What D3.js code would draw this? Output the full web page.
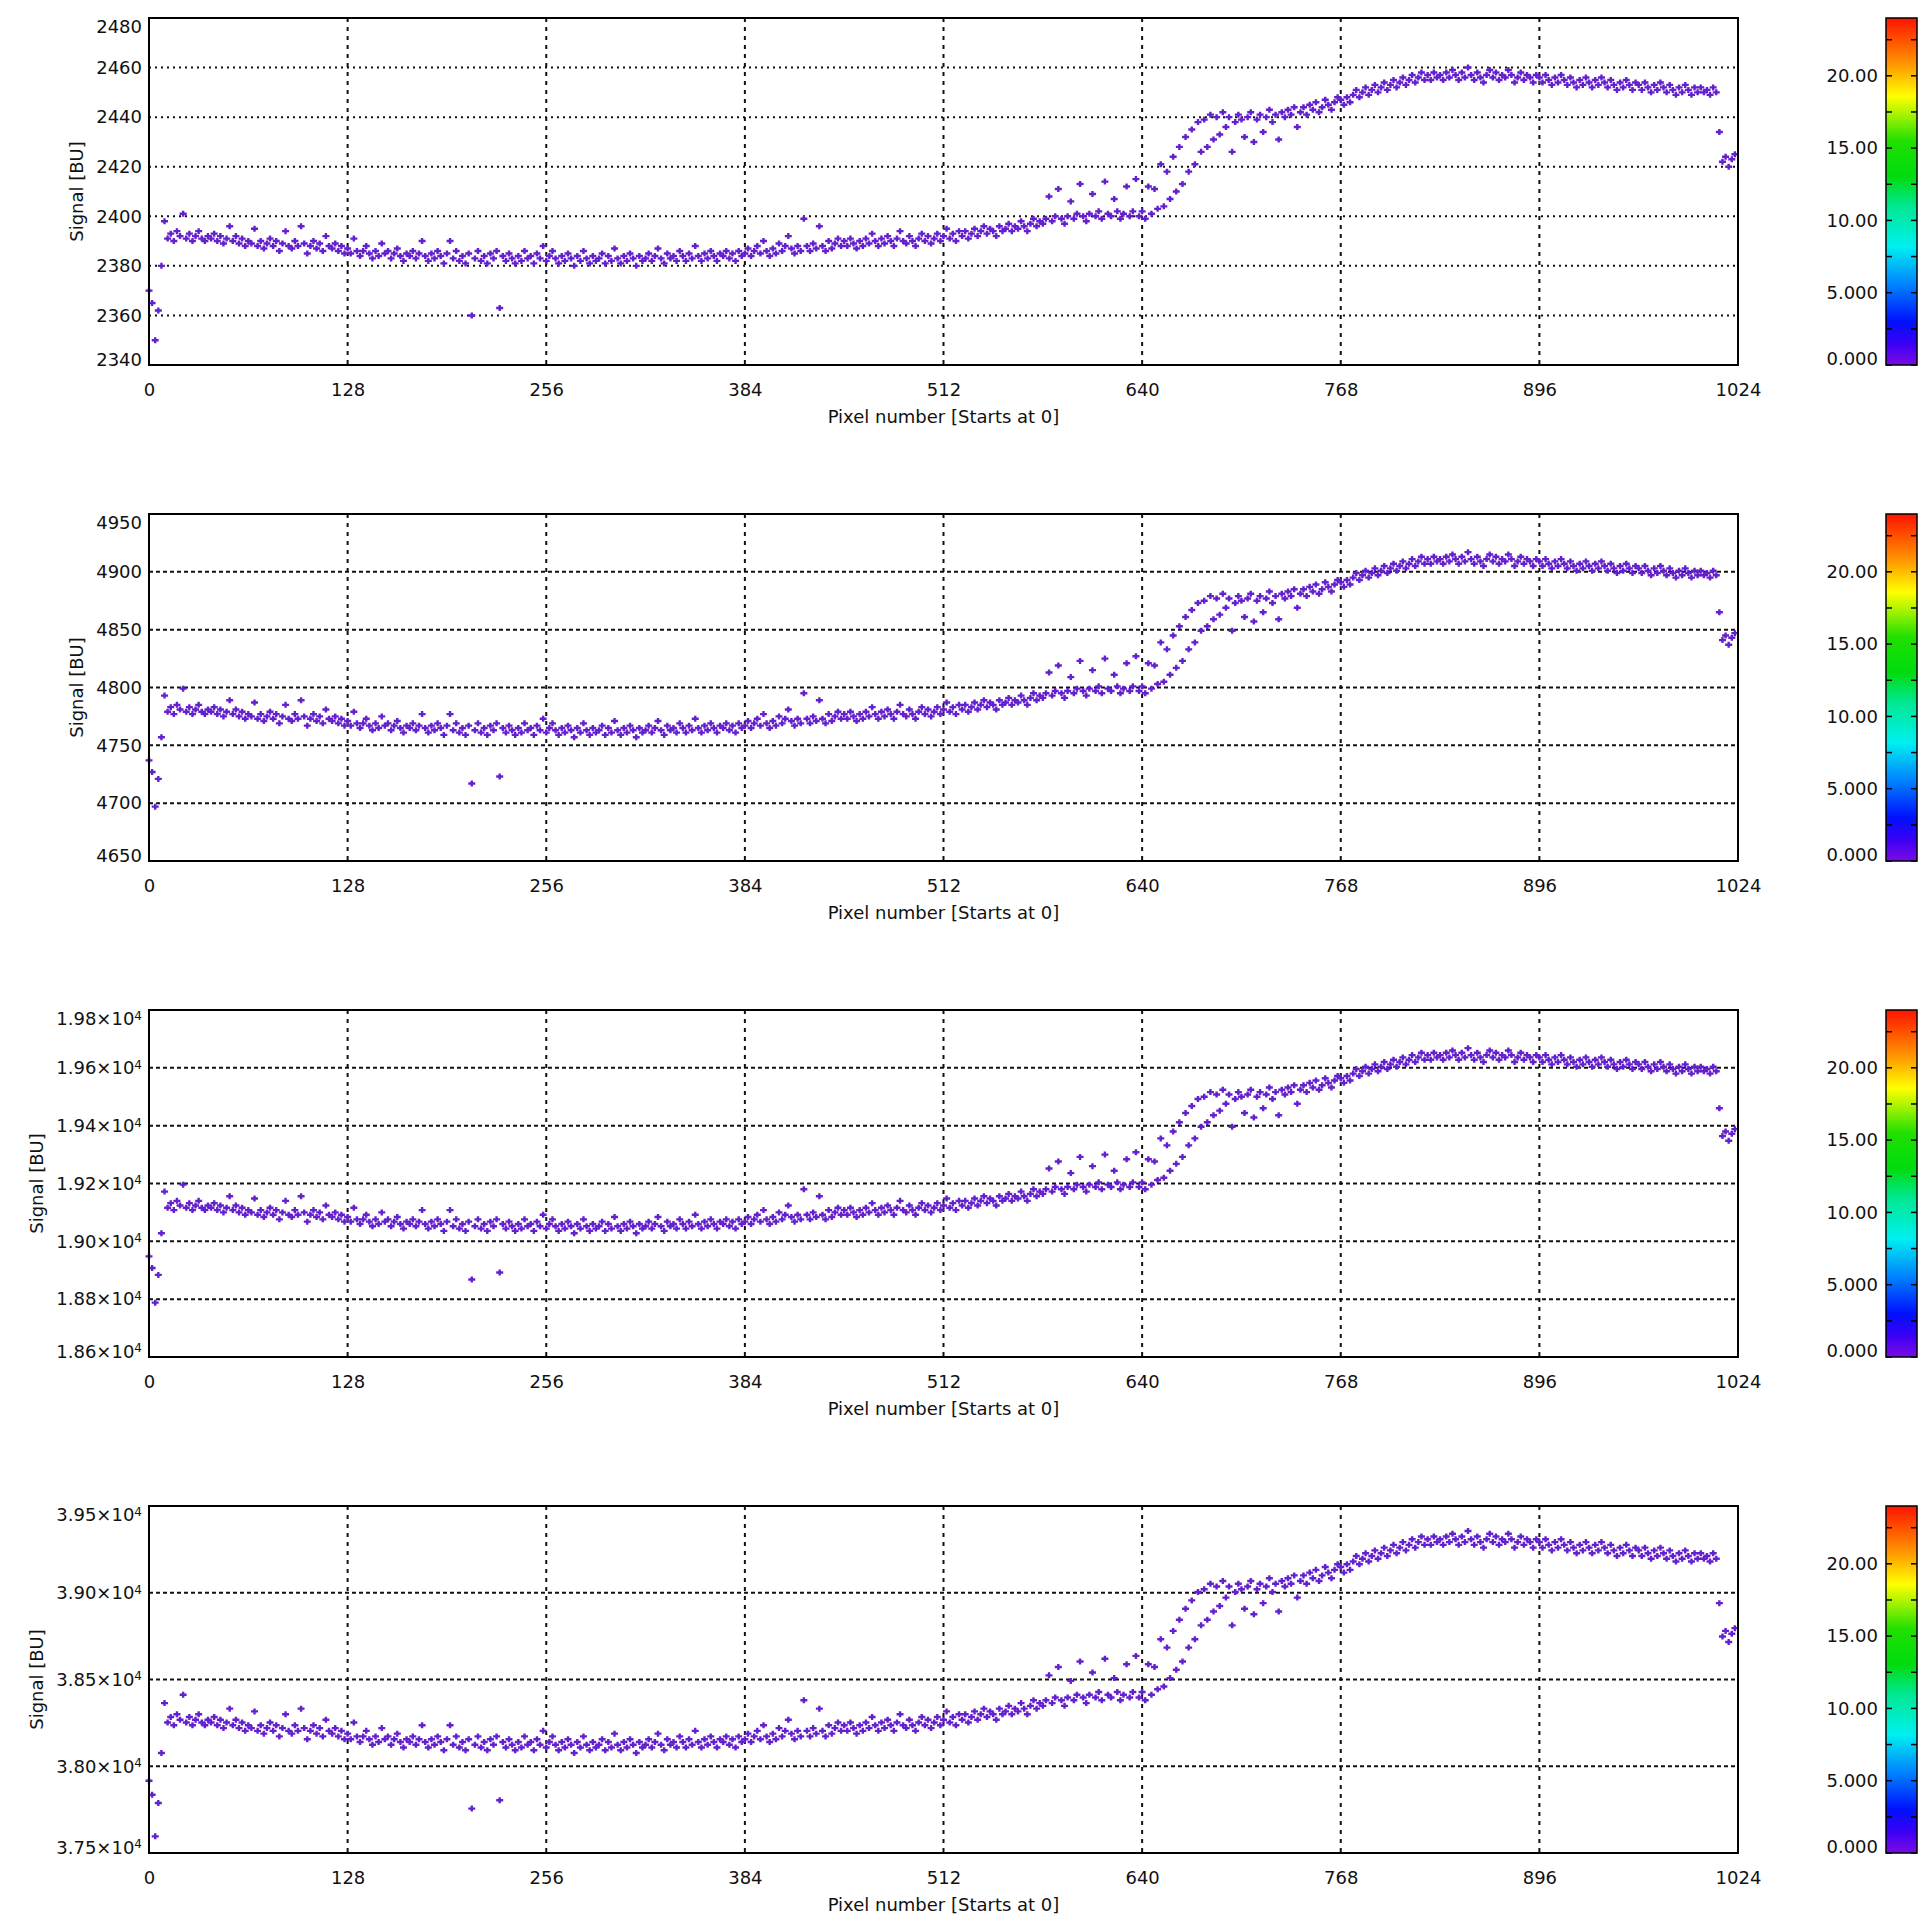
<!DOCTYPE html>
<html>
<head>
<meta charset="utf-8">
<script src="https://cdn.jsdelivr.net/npm/d3@7"></script>
<style>
  html, body { margin: 0; padding: 0; background: #fff; }
  svg text { font-family: "DejaVu Sans", sans-serif; fill: #111; }
</style>
</head>
<body>
<svg id="chart" width="1921" height="1916"></svg>
<script>
// Detector signal vs pixel number, four exposure levels, one point every 2 pixels
const X_TICKS = [0, 128, 256, 384, 512, 640, 768, 896, 1024];
const PIXEL_STEP = 2;

const SIGNAL_A = [
  2370,2365,2350,2362,2380,2398,2391,2393,2390,2394,2392,2401,2391,2393,2390,2392,2394,2391,2390,2392,2391,2393,2390,2392,2389,2391,2396,2390,2392,2389,2391,2388,
  2390,2389,2395,2388,2390,2387,2389,2391,2388,2390,2386,2389,2394,2388,2387,2390,2388,2396,2389,2385,2388,2390,2387,2389,2386,2392,2388,2387,2389,2386,2388,2385,
  2387,2385,2391,2386,2384,2386,2388,2385,2383,2386,2384,2389,2385,2386,2383,2385,2387,2384,2382,2385,2384,2386,2383,2385,2390,2384,2382,2385,2383,2386,2384,2381,
  2385,2390,2383,2386,2382,2384,2381,2385,2360,2383,2386,2382,2384,2381,2385,2383,2386,2363,2384,2382,2385,2383,2381,2384,2382,2386,2383,2384,2381,2385,2383,2388,
  2382,2384,2386,2383,2381,2384,2382,2385,2383,2380,2384,2382,2386,2383,2381,2384,2382,2383,2385,2381,2384,2382,2387,2383,2381,2384,2382,2385,2383,2380,2384,2382,
  2383,2385,2382,2384,2387,2383,2381,2385,2383,2384,2382,2386,2384,2382,2385,2383,2388,2384,2382,2385,2383,2386,2384,2382,2385,2384,2386,2383,2385,2382,2386,2384,
  2385,2387,2384,2386,2388,2385,2390,2386,2384,2387,2385,2389,2386,2388,2392,2387,2385,2388,2386,2399,2388,2386,2389,2387,2396,2388,2386,2390,2387,2389,2391,2388,
  2390,2388,2391,2389,2387,2390,2388,2391,2389,2393,2390,2388,2391,2389,2392,2390,2388,2391,2394,2390,2389,2392,2390,2388,2391,2393,2390,2392,2389,2391,2393,2390,
  2392,2395,2391,2393,2390,2394,2392,2394,2391,2393,2395,2392,2394,2396,2393,2395,2394,2392,2396,2394,2395,2397,2394,2396,2395,2398,2396,2394,2397,2399,2396,2398,
  2397,2399,2408,2398,2400,2411,2399,2397,2400,2406,2399,2401,2413,2400,2398,2401,2409,2400,2402,2399,2414,2401,2400,2407,2402,2399,2401,2412,2400,2402,2415,2400,
  2402,2399,2412,2401,2411,2403,2421,2404,2418,2407,2424,2410,2428,2413,2432,2418,2435,2421,2438,2426,2439,2428,2441,2431,2440,2433,2442,2436,2440,2426,2438,2441,
  2439,2432,2440,2442,2430,2439,2441,2434,2440,2443,2438,2441,2431,2442,2440,2443,2441,2444,2436,2442,2444,2441,2445,2443,2446,2442,2444,2447,2445,2443,2446,2448,
  2447,2445,2448,2446,2449,2451,2448,2450,2452,2449,2451,2453,2450,2452,2454,2451,2453,2455,2452,2454,2456,2453,2455,2457,2454,2456,2458,2455,2457,2455,2458,2456,
  2457,2455,2458,2456,2459,2457,2455,2458,2456,2460,2457,2455,2458,2456,2454,2457,2459,2456,2458,2455,2457,2456,2459,2457,2454,2456,2458,2455,2457,2456,2454,2457,
  2456,2454,2457,2455,2453,2456,2454,2457,2455,2453,2456,2454,2452,2455,2453,2456,2454,2452,2455,2453,2456,2454,2452,2455,2453,2451,2454,2452,2455,2453,2451,2454,
  2453,2451,2454,2452,2450,2453,2451,2454,2452,2450,2453,2451,2449,2452,2450,2453,2451,2449,2452,2450,2452,2450,2451,2449,2452,2450,2434,2422,2424,2420,2423,2425
];

const SIGNAL_B = [
  4737,4727,4697,4721,4757,4793,4779,4783,4777,4785,4781,4799,4779,4783,4777,4781,4785,4779,4777,4781,4779,4783,4777,4781,4775,4779,4789,4777,4781,4775,4779,4773,
  4777,4775,4787,4773,4777,4771,4775,4779,4773,4777,4769,4775,4785,4773,4771,4777,4773,4789,4775,4767,4773,4777,4771,4775,4769,4781,4773,4771,4775,4769,4773,4767,
  4771,4767,4779,4769,4765,4769,4773,4767,4763,4769,4765,4775,4767,4769,4763,4767,4771,4765,4761,4767,4765,4769,4763,4767,4777,4765,4761,4767,4763,4769,4765,4759,
  4767,4777,4763,4769,4761,4765,4759,4767,4717,4763,4769,4761,4765,4759,4767,4763,4769,4723,4765,4761,4767,4763,4759,4765,4761,4769,4763,4765,4759,4767,4763,4773,
  4761,4765,4769,4763,4759,4765,4761,4767,4763,4757,4765,4761,4769,4763,4759,4765,4761,4763,4767,4759,4765,4761,4771,4763,4759,4765,4761,4767,4763,4757,4765,4761,
  4763,4767,4761,4765,4771,4763,4759,4767,4763,4765,4761,4769,4765,4761,4767,4763,4773,4765,4761,4767,4763,4769,4765,4761,4767,4765,4769,4763,4767,4761,4769,4765,
  4767,4771,4765,4769,4773,4767,4777,4769,4765,4771,4767,4775,4769,4773,4781,4771,4767,4773,4769,4795,4773,4769,4775,4771,4789,4773,4769,4777,4771,4775,4779,4773,
  4777,4773,4779,4775,4771,4777,4773,4779,4775,4783,4777,4773,4779,4775,4781,4777,4773,4779,4785,4777,4775,4781,4777,4773,4779,4783,4777,4781,4775,4779,4783,4777,
  4781,4787,4779,4783,4777,4785,4781,4785,4779,4783,4787,4781,4785,4789,4783,4787,4785,4781,4789,4785,4787,4791,4785,4789,4787,4793,4789,4785,4791,4795,4789,4793,
  4791,4795,4813,4793,4797,4819,4795,4791,4797,4809,4795,4799,4823,4797,4793,4799,4815,4797,4801,4795,4825,4799,4797,4811,4801,4795,4799,4821,4797,4801,4827,4797,
  4801,4795,4821,4799,4819,4803,4839,4805,4833,4811,4845,4817,4853,4823,4861,4833,4867,4839,4873,4849,4875,4853,4879,4859,4877,4863,4881,4869,4877,4849,4873,4879,
  4875,4861,4877,4881,4857,4875,4879,4865,4877,4883,4873,4879,4859,4881,4877,4883,4879,4885,4869,4881,4885,4879,4887,4883,4889,4881,4885,4891,4887,4883,4889,4893,
  4891,4887,4893,4889,4895,4899,4893,4897,4901,4895,4899,4903,4897,4901,4905,4899,4903,4907,4901,4905,4909,4903,4907,4911,4905,4909,4913,4907,4911,4907,4913,4909,
  4911,4907,4913,4909,4915,4911,4907,4913,4909,4917,4911,4907,4913,4909,4905,4911,4915,4909,4913,4907,4911,4909,4915,4911,4905,4909,4913,4907,4911,4909,4905,4911,
  4909,4905,4911,4907,4903,4909,4905,4911,4907,4903,4909,4905,4901,4907,4903,4909,4905,4901,4907,4903,4909,4905,4901,4907,4903,4899,4905,4901,4907,4903,4899,4905,
  4903,4899,4905,4901,4897,4903,4899,4905,4901,4897,4903,4899,4895,4901,4897,4903,4899,4895,4901,4897,4901,4897,4899,4895,4901,4897,4865,4841,4845,4837,4843,4847
];

const SIGNAL_C = [
  18948,18908,18788,18884,19028,19172,19116,19132,19108,19140,19124,19196,19116,19132,19108,19124,19140,19116,19108,19124,19116,19132,19108,19124,19100,19116,19156,19108,19124,19100,19116,19092,
  19108,19100,19148,19092,19108,19084,19100,19116,19092,19108,19076,19100,19140,19092,19084,19108,19092,19156,19100,19068,19092,19108,19084,19100,19076,19124,19092,19084,19100,19076,19092,19068,
  19084,19068,19116,19076,19060,19076,19092,19068,19052,19076,19060,19100,19068,19076,19052,19068,19084,19060,19044,19068,19060,19076,19052,19068,19108,19060,19044,19068,19052,19076,19060,19036,
  19068,19108,19052,19076,19044,19060,19036,19068,18868,19052,19076,19044,19060,19036,19068,19052,19076,18892,19060,19044,19068,19052,19036,19060,19044,19076,19052,19060,19036,19068,19052,19092,
  19044,19060,19076,19052,19036,19060,19044,19068,19052,19028,19060,19044,19076,19052,19036,19060,19044,19052,19068,19036,19060,19044,19084,19052,19036,19060,19044,19068,19052,19028,19060,19044,
  19052,19068,19044,19060,19084,19052,19036,19068,19052,19060,19044,19076,19060,19044,19068,19052,19092,19060,19044,19068,19052,19076,19060,19044,19068,19060,19076,19052,19068,19044,19076,19060,
  19068,19084,19060,19076,19092,19068,19108,19076,19060,19084,19068,19100,19076,19092,19124,19084,19068,19092,19076,19180,19092,19076,19100,19084,19156,19092,19076,19108,19084,19100,19116,19092,
  19108,19092,19116,19100,19084,19108,19092,19116,19100,19132,19108,19092,19116,19100,19124,19108,19092,19116,19140,19108,19100,19124,19108,19092,19116,19132,19108,19124,19100,19116,19132,19108,
  19124,19148,19116,19132,19108,19140,19124,19140,19116,19132,19148,19124,19140,19156,19132,19148,19140,19124,19156,19140,19148,19164,19140,19156,19148,19172,19156,19140,19164,19180,19156,19172,
  19164,19180,19252,19172,19188,19276,19180,19164,19188,19236,19180,19196,19292,19188,19172,19196,19260,19188,19204,19180,19300,19196,19188,19244,19204,19180,19196,19284,19188,19204,19308,19188,
  19204,19180,19284,19196,19276,19212,19356,19220,19332,19244,19380,19268,19412,19292,19444,19332,19468,19356,19492,19396,19500,19412,19516,19436,19508,19452,19524,19476,19508,19396,19492,19516,
  19500,19444,19508,19524,19428,19500,19516,19460,19508,19532,19492,19516,19436,19524,19508,19532,19516,19540,19476,19524,19540,19516,19548,19532,19556,19524,19540,19564,19548,19532,19556,19572,
  19564,19548,19572,19556,19580,19596,19572,19588,19604,19580,19596,19612,19588,19604,19620,19596,19612,19628,19604,19620,19636,19612,19628,19644,19620,19636,19652,19628,19644,19628,19652,19636,
  19644,19628,19652,19636,19660,19644,19628,19652,19636,19668,19644,19628,19652,19636,19620,19644,19660,19636,19652,19628,19644,19636,19660,19644,19620,19636,19652,19628,19644,19636,19620,19644,
  19636,19620,19644,19628,19612,19636,19620,19644,19628,19612,19636,19620,19604,19628,19612,19636,19620,19604,19628,19612,19636,19620,19604,19628,19612,19596,19620,19604,19628,19612,19596,19620,
  19612,19596,19620,19604,19588,19612,19596,19620,19604,19588,19612,19596,19580,19604,19588,19612,19596,19580,19604,19588,19604,19588,19596,19580,19604,19588,19460,19364,19380,19348,19372,19388
];

const SIGNAL_D = [
  37916,37836,37596,37788,38076,38364,38252,38284,38236,38300,38268,38412,38252,38284,38236,38268,38300,38252,38236,38268,38252,38284,38236,38268,38220,38252,38332,38236,38268,38220,38252,38204,
  38236,38220,38316,38204,38236,38188,38220,38252,38204,38236,38172,38220,38300,38204,38188,38236,38204,38332,38220,38156,38204,38236,38188,38220,38172,38268,38204,38188,38220,38172,38204,38156,
  38188,38156,38252,38172,38140,38172,38204,38156,38124,38172,38140,38220,38156,38172,38124,38156,38188,38140,38108,38156,38140,38172,38124,38156,38236,38140,38108,38156,38124,38172,38140,38092,
  38156,38236,38124,38172,38108,38140,38092,38156,37756,38124,38172,38108,38140,38092,38156,38124,38172,37804,38140,38108,38156,38124,38092,38140,38108,38172,38124,38140,38092,38156,38124,38204,
  38108,38140,38172,38124,38092,38140,38108,38156,38124,38076,38140,38108,38172,38124,38092,38140,38108,38124,38156,38092,38140,38108,38188,38124,38092,38140,38108,38156,38124,38076,38140,38108,
  38124,38156,38108,38140,38188,38124,38092,38156,38124,38140,38108,38172,38140,38108,38156,38124,38204,38140,38108,38156,38124,38172,38140,38108,38156,38140,38172,38124,38156,38108,38172,38140,
  38156,38188,38140,38172,38204,38156,38236,38172,38140,38188,38156,38220,38172,38204,38268,38188,38156,38204,38172,38380,38204,38172,38220,38188,38332,38204,38172,38236,38188,38220,38252,38204,
  38236,38204,38252,38220,38188,38236,38204,38252,38220,38284,38236,38204,38252,38220,38268,38236,38204,38252,38300,38236,38220,38268,38236,38204,38252,38284,38236,38268,38220,38252,38284,38236,
  38268,38316,38252,38284,38236,38300,38268,38300,38252,38284,38316,38268,38300,38332,38284,38316,38300,38268,38332,38300,38316,38348,38300,38332,38316,38364,38332,38300,38348,38380,38332,38364,
  38348,38380,38524,38364,38396,38572,38380,38348,38396,38492,38380,38412,38604,38396,38364,38412,38540,38396,38428,38380,38620,38412,38396,38508,38428,38380,38412,38588,38396,38428,38636,38396,
  38428,38380,38588,38412,38572,38444,38732,38460,38684,38508,38780,38556,38844,38604,38908,38684,38956,38732,39004,38812,39020,38844,39052,38892,39036,38924,39068,38972,39036,38812,39004,39052,
  39020,38908,39036,39068,38876,39020,39052,38940,39036,39084,39004,39052,38892,39068,39036,39084,39052,39100,38972,39068,39100,39052,39116,39084,39132,39068,39100,39148,39116,39084,39132,39164,
  39148,39116,39164,39132,39180,39212,39164,39196,39228,39180,39212,39244,39196,39228,39260,39212,39244,39276,39228,39260,39292,39244,39276,39308,39260,39292,39324,39276,39308,39276,39324,39292,
  39308,39276,39324,39292,39340,39308,39276,39324,39292,39356,39308,39276,39324,39292,39260,39308,39340,39292,39324,39276,39308,39292,39340,39308,39260,39292,39324,39276,39308,39292,39260,39308,
  39292,39260,39308,39276,39244,39292,39260,39308,39276,39244,39292,39260,39228,39276,39244,39292,39260,39228,39276,39244,39292,39260,39228,39276,39244,39212,39260,39228,39276,39244,39212,39260,
  39244,39212,39260,39228,39196,39244,39212,39260,39228,39196,39244,39212,39180,39228,39196,39244,39212,39180,39228,39196,39228,39196,39212,39180,39228,39196,38940,38748,38780,38716,38764,38796
];

const Y_TICKS_A = [2340, 2360, 2380, 2400, 2420, 2440, 2460, 2480];
const Y_TICKS_B = [4650, 4700, 4750, 4800, 4850, 4900, 4950];
const Y_TICKS_C = [18600, 18800, 19000, 19200, 19400, 19600, 19800];
const Y_TICKS_D = [37500, 38000, 38500, 39000, 39500];

// colour bar (same for every panel)
const CBAR_MAX = 24;
const CBAR_MAJOR = [0, 5, 10, 15, 20];
const CBAR_LABELS = ['0.000', '5.000', '10.00', '15.00', '20.00'];
const CBAR_MINOR = [2.5, 7.5, 12.5, 17.5, 22.5];
const CBAR_STOPS = [
  [0, '#7a0ae6'], [1.5, '#3a00f5'], [3, '#0010ff'], [5.5, '#0080ff'], [8.2, '#00f0f0'],
  [11, '#00e890'], [13, '#00dc10'], [15.5, '#20e000'], [17, '#90f000'], [18.6, '#ffff00'],
  [20.5, '#ffa400'], [22, '#ff6400'], [24, '#ff1400']
];

const X_TITLE = 'Pixel number [Starts at 0]';
const Y_TITLE = 'Signal [BU]';

(function () {
  'use strict';

  const svg = d3.select('#chart');
  const LEFT = 149, RIGHT = 1738, H = 347;
  const TOPS = [18, 514, 1010, 1506];
  const CB_X = 1886, CB_W = 31;
  const MARK_COLOR = '#6420cc';

  const plain = v => String(v);
  const sci = v => (v / 1e4).toFixed(2);

  const panels = [
    { values: SIGNAL_A, ticks: Y_TICKS_A, fmt: plain, sci: false },
    { values: SIGNAL_B, ticks: Y_TICKS_B, fmt: plain, sci: false },
    { values: SIGNAL_C, ticks: Y_TICKS_C, fmt: sci, sci: true },
    { values: SIGNAL_D, ticks: Y_TICKS_D, fmt: sci, sci: true }
  ];

  // gradient for the colour bars
  const defs = svg.append('defs');
  const grad = defs.append('linearGradient').attr('id', 'cbar')
    .attr('x1', 0).attr('y1', 1).attr('x2', 0).attr('y2', 0);
  grad.selectAll('stop').data(CBAR_STOPS).join('stop')
    .attr('offset', d => d[0] / CBAR_MAX)
    .attr('stop-color', d => d[1]);

  const x = d3.scaleLinear().domain([0, 1024]).range([LEFT, RIGHT]);

  panels.forEach((p, k) => {
    const top = TOPS[k];
    const y = d3.scaleLinear().domain(d3.extent(p.ticks)).range([top + H, top]);
    const g = svg.append('g');

    // dotted grid
    g.selectAll('line.hg').data(p.ticks.slice(1, -1)).join('line')
      .attr('x1', LEFT).attr('x2', RIGHT)
      .attr('y1', d => y(d)).attr('y2', d => y(d))
      .attr('stroke', '#111').attr('stroke-width', 2)
      .attr('stroke-dasharray', k === 0 ? '2,4' : '4,3');
    g.selectAll('line.vg').data(X_TICKS.slice(1, -1)).join('line')
      .attr('x1', d => x(d)).attr('x2', d => x(d))
      .attr('y1', top).attr('y2', top + H)
      .attr('stroke', '#111').attr('stroke-width', 2)
      .attr('stroke-dasharray', '4,5');

    // data points
    g.append('g').selectAll('path').data(p.values).join('path')
      .attr('transform', (v, i) => `translate(${x(i * PIXEL_STEP)},${y(v)})`)
      .attr('d', 'M-3.5,0H3.5M0,-3V3')
      .attr('stroke', MARK_COLOR).attr('stroke-width', 2.4).attr('fill', 'none');

    // frame
    g.append('rect').attr('x', LEFT).attr('y', top)
      .attr('width', RIGHT - LEFT).attr('height', H)
      .attr('fill', 'none').attr('stroke', '#000').attr('stroke-width', 2);

    // y axis labels
    const ya = g.append('g').attr('transform', `translate(${LEFT},0)`)
      .call(d3.axisLeft(y).tickValues(p.ticks).tickSize(0).tickPadding(7).tickFormat(p.fmt));
    ya.select('.domain').remove();
    ya.selectAll('text').attr('font-size', 18).attr('font-family', '"DejaVu Sans", sans-serif')
      .attr('fill', '#111');
    ya.selectAll('.tick').filter(d => d === p.ticks[0]).select('text').attr('dy', '0.02em');
    ya.selectAll('.tick').filter(d => d === p.ticks[p.ticks.length - 1]).select('text').attr('dy', '0.82em');
    if (p.sci) {
      ya.selectAll('text').each(function () {
        const t = d3.select(this);
        const txt = t.text();
        t.text(txt + '\u00d710');
        t.append('tspan').attr('dy', '-0.45em').attr('font-size', 12).text('4');
      });
    }

    // x axis labels
    const xa = g.append('g').attr('transform', `translate(0,${top + H})`)
      .call(d3.axisBottom(x).tickValues(X_TICKS).tickSize(0).tickPadding(18).tickFormat(d3.format('d')));
    xa.select('.domain').remove();
    xa.selectAll('text').attr('font-size', 18).attr('font-family', '"DejaVu Sans", sans-serif')
      .attr('fill', '#111');

    g.append('text').attr('x', (LEFT + RIGHT) / 2).attr('y', top + H + 58)
      .attr('text-anchor', 'middle').attr('font-size', 18).text(X_TITLE);

    // y title sits just left of the widest tick label
    const bb = ya.node().getBBox();
    g.append('text')
      .attr('transform', `translate(${LEFT + bb.x - 20},${top + H / 2}) rotate(-90)`)
      .attr('text-anchor', 'middle').attr('dy', '0.35em')
      .attr('font-size', 18).text(Y_TITLE);

    // colour bar
    const c = d3.scaleLinear().domain([0, CBAR_MAX]).range([top + H, top]);
    const cb = svg.append('g');
    cb.append('rect').attr('x', CB_X).attr('y', top).attr('width', CB_W).attr('height', H)
      .attr('fill', 'url(#cbar)').attr('stroke', '#000').attr('stroke-width', 1.5);
    const allTicks = CBAR_MAJOR.concat(CBAR_MINOR);
    cb.selectAll('line.l').data(allTicks).join('line')
      .attr('x1', CB_X).attr('x2', CB_X + 6)
      .attr('y1', d => c(d)).attr('y2', d => c(d))
      .attr('stroke', '#000').attr('stroke-width', 1.5);
    cb.selectAll('line.r').data(allTicks).join('line')
      .attr('x1', CB_X + CB_W - 6).attr('x2', CB_X + CB_W)
      .attr('y1', d => c(d)).attr('y2', d => c(d))
      .attr('stroke', '#000').attr('stroke-width', 1.5);
    cb.selectAll('text').data(CBAR_MAJOR).join('text')
      .attr('x', CB_X - 8).attr('y', d => c(d))
      .attr('dy', (d, i) => i === 0 ? '0.0em' : '0.35em')
      .attr('text-anchor', 'end').attr('font-size', 18)
      .text((d, i) => CBAR_LABELS[i]);
  });
})();
</script>
</body>
</html>
